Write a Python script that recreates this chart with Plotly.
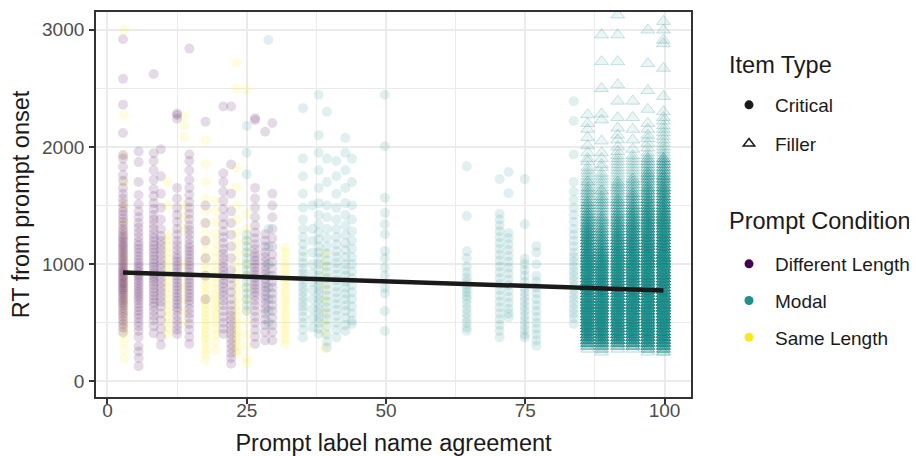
import plotly.graph_objects as go

# ---------------- data (RT in ms) ----------------
# Critical items, Different Length prompts
diff_x = [2.8, 5.6, 8.3, 9.6, 12.5, 14.7, 17.6, 20.8, 22.2, 26.5, 28.3, 29.6]
diff_rt = [
    [2917, 2580, 2359, 2118, 1930, 1900, 1830, 1760, 1710, 1650, 1600, 1560, 1520, 1480, 1450, 1420,
     1390, 1360, 1330, 1300, 1280, 1250, 1230, 1210, 1190, 1170, 1150, 1130, 1110, 1090, 1070, 1050,
     1030, 1010, 990, 970, 950, 935, 920, 900, 885, 870, 850, 835, 820, 800, 785, 770, 750, 730, 710,
     690, 670, 650, 625, 600, 575, 550, 520, 490, 460, 420],
    [1960, 1870, 1700, 1590, 1510, 1450, 1400, 1350, 1310, 1270, 1230, 1190, 1160, 1130, 1100, 1070,
     1040, 1010, 985, 960, 935, 910, 890, 865, 840, 815, 790, 765, 740, 715, 690, 660, 630, 600, 570,
     540, 505, 470, 430, 380, 300, 255, 200, 130],
    [2622, 1945, 1880, 1800, 1720, 1640, 1580, 1520, 1470, 1420, 1380, 1340, 1300, 1260, 1225, 1190,
     1160, 1130, 1100, 1070, 1040, 1010, 980, 950, 925, 900, 875, 850, 820, 790, 760, 730, 700, 670,
     640, 600, 560, 520, 470, 410],
    [1980, 1750, 1600, 1480, 1380, 1300, 1240, 1200, 1160, 1120, 1080, 1040, 1000, 960, 920, 880, 840,
     800, 760, 720, 680, 640, 580, 520, 450, 380, 310],
    [2285, 2271, 2240, 1650, 1560, 1480, 1420, 1360, 1300, 1250, 1200, 1160, 1120, 1080, 1050, 1020,
     990, 960, 930, 900, 870, 840, 810, 780, 750, 720, 690, 660, 630, 600, 560, 520, 480, 440, 405],
    [2838, 1935, 1880, 1800, 1720, 1650, 1590, 1530, 1480, 1430, 1380, 1330, 1290, 1250, 1210, 1170,
     1140, 1110, 1080, 1050, 1020, 990, 960, 930, 900, 870, 840, 810, 780, 750, 720, 690, 660, 620,
     580, 540, 490, 440, 380, 320],
    [2215, 1500, 1350, 1200, 1050, 900, 700],
    [2345, 1775, 1700, 1620, 1540, 1470, 1400, 1340, 1280, 1230, 1180, 1130, 1090, 1050, 1010, 975,
     940, 905, 870, 835, 800, 765, 730, 690, 650, 600, 550, 500, 450, 405],
    [2345, 1850, 1600, 1450, 1350, 1250, 1150, 1050, 950, 880, 820, 760, 700, 650, 600, 560, 520, 480,
     440, 400, 360, 320, 280, 240, 200, 150],
    [2243, 2230, 1650, 1560, 1480, 1400, 1330, 1270, 1220, 1170, 1130, 1090, 1060, 1030, 1000, 970,
     940, 910, 880, 850, 820, 790, 760, 730, 690, 650, 600, 550, 500, 440, 380, 320],
    [2129, 1255, 1200, 1150, 1100, 1060, 1020, 980, 945, 910, 875, 840, 805, 770, 735, 700, 660, 620,
     580, 530, 480, 420, 350],
    [2203, 1600, 1500, 1400, 1300, 1220, 1150, 1080, 1020, 960, 900, 850, 800, 750, 700, 650, 600, 540,
     480, 420, 350],
]

# Critical items, Same Length prompts
same_x = [3.0, 10.8, 13.8, 17.6, 19.4, 23.2, 25.0, 31.9, 39.0]
same_rt = [
    [2996, 2270, 1930, 1700, 1500, 1350, 1250, 1150, 1080, 1020, 960, 900, 850, 800, 750, 700, 650,
     600, 550, 500, 450, 400, 340, 270, 195],
    [1700, 1500, 1250, 1200, 1150, 1100, 1050, 1000, 950, 900, 850, 800, 750, 700, 650, 600, 550, 500,
     450, 400],
    [2260, 2183, 2084, 1500, 1400, 1300, 1000, 900, 800, 700, 600, 500],
    [2056, 1850, 1700, 1560, 1450, 1350, 1260, 1180, 1110, 1050, 1000, 950, 905, 860, 820, 780, 740,
     700, 665, 630, 595, 560, 525, 490, 455, 420, 385, 350, 310, 270, 230, 180],
    [1540, 1450, 1350, 1260, 1180, 1110, 1050, 990, 940, 890, 840, 790, 740, 700, 660, 620, 580, 540,
     500, 450, 400, 340, 265],
    [2719, 2498, 1820, 1650, 1500, 1380, 1270, 1180, 1100, 1020, 950, 880, 820, 760, 700, 650, 600,
     550, 500, 460, 420, 380, 340, 300, 260, 240],
    [2492, 1430, 1300, 1200, 1100, 1000, 900, 800, 700, 600, 500, 400, 300, 200, 150],
    [1140, 1100, 1050, 1000, 960, 920, 880, 840, 800, 760, 720, 680, 640, 600, 560, 520, 480, 440,
     400, 360, 320],
    [1090, 1000, 900, 800, 700, 600, 500, 410, 280],
]

# Critical items, Modal prompts
modal_x = [25.0, 28.9, 35.1, 36.8, 37.9, 39.4, 41.1, 42.7, 43.9, 49.8, 64.5, 70.4, 72.0, 74.9, 77.0, 83.7]
modal_rt = [
    [2180, 1950, 1767, 1250, 1200, 1150, 1100, 1050, 1000, 950, 900, 850, 800, 750, 700, 650, 600],
    [2911, 1300, 1150, 1000, 900, 800, 700, 600, 500],
    [2330, 1900, 1750, 1600, 1480, 1380, 1300, 1230, 1170, 1110, 1060, 1010, 960, 920, 880, 840, 800,
     760, 720, 680, 640, 600, 550, 500, 440, 375],
    [1500, 1300, 1200, 1100, 1000, 920, 850, 780, 700, 620, 540, 460],
    [2445, 2100, 1950, 1800, 1650, 1520, 1420, 1340, 1270, 1210, 1150, 1100, 1050, 1000, 950, 900,
     860, 820, 780, 740, 700, 660, 620, 580, 540, 500, 450, 405],
    [2300, 1900, 1700, 1500, 1400, 1300, 1220, 1150, 1090, 1030, 980, 930, 880, 830, 780, 730, 680,
     630, 580, 530, 470, 400, 340, 290],
    [1880, 1750, 1600, 1480, 1380, 1300, 1230, 1170, 1110, 1060, 1010, 960, 910, 860, 810, 760, 710,
     660, 610, 560, 500, 440, 375],
    [2075, 1950, 1800, 1650, 1520, 1420, 1330, 1250, 1180, 1120, 1060, 1000, 950, 900, 850, 800, 750,
     700, 650, 600, 540, 480, 430],
    [1900, 1700, 1500, 1380, 1280, 1200, 1130, 1060, 1000, 940, 880, 820, 760, 700, 640, 580, 520, 490],
    [2445, 2005, 1565, 1435, 1340, 1255, 1113, 1050, 970, 900, 800, 750, 600, 430],
    [1835, 1410, 1110, 1050, 980, 930, 885, 850, 820, 790, 760, 730, 700, 660, 620, 580, 540, 500,
     460, 430],
    [1725, 1430, 1380, 1330, 1280, 1230, 1180, 1130, 1080, 1030, 980, 930, 880, 830, 780, 730, 680,
     630, 580, 530, 480, 430, 375],
    [1785, 1605, 1265, 1220, 1170, 1120, 1070, 1020, 970, 920, 870, 820, 770, 720, 670, 620, 580, 545],
    [1725, 1340, 1045, 1000, 950, 900, 850, 800, 760, 720, 680, 640, 600, 560, 520, 480, 440, 400, 375],
    [1155, 1100, 1000, 900, 850, 800, 750, 700, 650, 600, 550, 500, 450, 400, 350, 305],
    [2390, 2220, 1935, 1700, 1620, 1550, 1480, 1420, 1360, 1300, 1250, 1200, 1150, 1100, 1060, 1020,
     980, 940, 900, 860, 820, 780, 740, 700, 660, 620, 580, 540, 490],
]

# Filler items (all Modal): number of trials per 25 ms RT bin, per item column
filler_x = [86.2, 88.7, 91.6, 94.3, 97.0, 99.8]
filler_bins = [250, 275, 300, 325, 350, 375, 400, 425, 450, 475, 500, 525, 550, 575, 600, 625, 650,
               675, 700, 725, 750, 775, 800, 825, 850, 875, 900, 925, 950, 975, 1000, 1025, 1050,
               1075, 1100, 1125, 1150, 1175, 1200, 1225, 1250, 1275, 1300, 1325, 1350, 1375, 1400,
               1425, 1450, 1475, 1500, 1525, 1550, 1575, 1600, 1625, 1650, 1675, 1700, 1725, 1750,
               1775, 1800, 1825, 1850, 1875, 1900]
filler_counts = [
    [0, 1, 3, 6, 8, 10, 11, 11, 12, 12, 12, 12, 12, 12, 12, 12, 12, 12, 12, 11, 11, 11, 11, 11,
     11, 10, 10, 10, 10, 10, 10, 9, 9, 9, 9, 8, 8, 8, 7, 7, 7, 6, 6, 5, 5, 4, 4, 4, 3, 3, 3, 3,
     2, 2, 2, 2, 2, 1, 2, 1, 1, 1, 1, 1, 0, 1, 1],
    [1, 2, 4, 7, 9, 10, 11, 11, 12, 12, 12, 12, 12, 12, 12, 12, 12, 12, 11, 11, 11, 11, 11, 10,
     10, 10, 10, 9, 9, 9, 8, 8, 8, 7, 7, 6, 6, 5, 5, 5, 4, 4, 4, 3, 3, 3, 3, 2, 2, 2, 2, 2,
     2, 2, 1, 2, 1, 1, 1, 1, 1, 1, 0, 1, 1, 0, 1],
    [0, 1, 3, 6, 9, 10, 11, 11, 12, 12, 12, 12, 12, 12, 12, 12, 12, 12, 12, 11, 11, 11, 11, 11,
     11, 10, 10, 10, 10, 10, 9, 9, 9, 9, 8, 8, 8, 7, 7, 7, 6, 6, 5, 5, 5, 4, 4, 4, 3, 3, 3, 3,
     3, 2, 2, 2, 2, 2, 2, 1, 1, 1, 1, 1, 1, 1, 1],
    [0, 1, 4, 7, 9, 10, 11, 11, 12, 12, 12, 12, 12, 12, 12, 12, 12, 12, 12, 12, 11, 11, 11, 11,
     11, 11, 11, 10, 10, 10, 10, 10, 10, 9, 9, 9, 9, 8, 8, 8, 7, 7, 7, 6, 6, 5, 5, 5, 4, 4, 4, 3,
     3, 3, 3, 2, 2, 2, 2, 2, 1, 1, 1, 1, 1, 1, 1],
    [1, 3, 6, 9, 10, 11, 12, 12, 13, 13, 13, 13, 13, 13, 13, 13, 13, 13, 13, 13, 12, 12, 12, 12,
     12, 12, 12, 12, 11, 11, 11, 11, 11, 11, 10, 10, 10, 10, 9, 9, 9, 8, 8, 8, 7, 7, 7, 6, 6, 6,
     5, 5, 5, 4, 4, 4, 4, 3, 3, 3, 3, 3, 2, 2, 2, 2, 2],
    [2, 4, 7, 10, 11, 12, 13, 13, 14, 14, 14, 14, 14, 14, 14, 14, 14, 14, 14, 14, 13, 13, 13, 13,
     13, 13, 13, 13, 12, 12, 12, 12, 12, 12, 11, 11, 11, 11, 10, 10, 10, 9, 9, 9, 8, 8, 8, 7, 7, 7,
     6, 6, 6, 5, 5, 5, 5, 4, 4, 4, 4, 3, 3, 3, 3, 3, 3],
]
# Filler trials slower than the binned range
filler_slow_rt = [
    [1950, 2010, 2080, 2150, 2200, 2275],
    [1950, 2050, 2230, 2280, 2498, 2727, 2955],
    [1925, 1960, 2000, 2060, 2100, 2160, 2250, 2390, 2530, 2727, 2955, 3125],
    [1925, 1980, 2060, 2150, 2250, 2390],
    [1925, 1950, 1990, 2030, 2070, 2100, 2150, 2200, 2320, 2480, 2710, 2996],
    [1925, 1950, 1975, 2000, 2030, 2060, 2090, 2120, 2150, 2180, 2220, 2250, 2300, 2430, 2670,
     2880, 2910, 2996, 3070],
]

# Linear fit over all trials (end points)
fit_x = [2.8, 99.8]
fit_rt = [928, 775]

x_ticks = [0, 25, 50, 75, 100]
y_ticks = [0, 1000, 2000, 3000]

# ---------------- styling ----------------
FONT = "Liberation Sans, Arial, Helvetica, sans-serif"
C_DIFF = "#440154"
C_MODAL = "#21908C"
C_SAME = "#FDE725"

# The page body has an 8 px margin, so the figure starts 8 px into the window
BODY = 8
W, H = 917 - BODY, 456 - BODY
# plot panel in window pixels: x 96..691, y 12..397
PL, PR, PT, PB = 96, 691, 12, 397


def px_x(p):
    return (p - PL) / (PR - PL)


def px_y(p):
    return (PB - p) / (PB - PT)


def rgba(hex_color, a):
    h = hex_color.lstrip("#")
    r, g, b = int(h[0:2], 16), int(h[2:4], 16), int(h[4:6], 16)
    return f"rgba({r},{g},{b},{a})"


fig = go.Figure()


def add_critical(xs, rts, color):
    X, Y = [], []
    for x, col in zip(xs, rts):
        X += [x] * len(col)
        Y += col
    fig.add_trace(go.Scatter(
        x=X, y=Y, mode="markers", showlegend=False, hoverinfo="skip",
        marker=dict(symbol="circle", size=10, color=rgba(color, 0.14), line=dict(width=0)),
    ))


add_critical(same_x, same_rt, C_SAME)
add_critical(diff_x, diff_rt, C_DIFF)
add_critical(modal_x, modal_rt, C_MODAL)

FX, FY = [], []
for x, counts, slow in zip(filler_x, filler_counts, filler_slow_rt):
    for b, c in zip(filler_bins, counts):
        FX += [x] * c
        FY += [b] * c
    FX += [x] * len(slow)
    FY += slow
fig.add_trace(go.Scatter(
    x=FX, y=FY, mode="markers", showlegend=False, hoverinfo="skip",
    marker=dict(symbol="triangle-up", size=12, color=rgba(C_MODAL, 0.09),
                line=dict(width=1, color=rgba(C_MODAL, 0.24))),
))

fig.add_trace(go.Scatter(
    x=fit_x, y=fit_rt, mode="lines", showlegend=False, hoverinfo="skip",
    line=dict(color="#1A1A1A", width=4.5),
))

# legend entries
fig.add_trace(go.Scatter(x=[None], y=[None], mode="markers", name="Critical", legend="legend",
                         legendgroup="crit",
                         marker=dict(symbol="circle", size=9, color="#1A1A1A")))
fig.add_trace(go.Scatter(x=[None], y=[None], mode="markers", name="Filler", legend="legend",
                         legendgroup="fill",
                         marker=dict(symbol="triangle-up-open", size=10, color="#1A1A1A",
                                     line=dict(width=1.5))))
for nm, col in [("Different Length", C_DIFF), ("Modal", C_MODAL), ("Same Length", C_SAME)]:
    fig.add_trace(go.Scatter(x=[None], y=[None], mode="markers", name=nm, legend="legend2",
                             legendgroup=nm,
                             marker=dict(symbol="circle", size=9, color=col)))

GRID = "#E9ECEA"
axis_common = dict(
    showline=True, mirror=True, linecolor="#333333", linewidth=1.8,
    ticks="outside", ticklen=5, tickwidth=1.5, tickcolor="#333333",
    tickfont=dict(family=FONT, size=19, color="#4D4D4D"),
    showgrid=True, gridcolor=GRID, gridwidth=2.4, zeroline=False,
    automargin=False,
)

fig.update_layout(
    width=W, height=H,
    margin=dict(l=PL - BODY, r=W - (PR - BODY), t=PT - BODY, b=H - (PB - BODY), autoexpand=False),
    paper_bgcolor="white", plot_bgcolor="white",
    font=dict(family=FONT, color="#1A1A1A"),
    xaxis=dict(
        **axis_common, range=[-2.05, 104.75], tickvals=x_ticks, ticklabelstandoff=-10,
        minor=dict(showgrid=True, dtick=12.5, tick0=0, gridcolor=GRID, gridwidth=1.2, ticks=""),
        title=dict(text="Prompt label name agreement", standoff=16,
                   font=dict(family=FONT, size=23.5, color="#1A1A1A")),
    ),
    yaxis=dict(
        **axis_common, range=[-133, 3150], tickvals=y_ticks, ticklabelstandoff=1,
        minor=dict(showgrid=True, dtick=500, tick0=0, gridcolor=GRID, gridwidth=1.2, ticks=""),
        title=dict(text="RT from prompt onset", standoff=6,
                   font=dict(family=FONT, size=23.5, color="#1A1A1A")),
    ),
    legend=dict(
        x=px_x(723), xanchor="left", y=px_y(86), yanchor="top",
        font=dict(family=FONT, size=19, color="#1A1A1A"),
        tracegroupgap=11, itemwidth=42, bgcolor="rgba(0,0,0,0)",
    ),
    legend2=dict(
        x=px_x(723), xanchor="left", y=px_y(245), yanchor="top",
        font=dict(family=FONT, size=19, color="#1A1A1A"),
        tracegroupgap=9, itemwidth=42, bgcolor="rgba(0,0,0,0)",
    ),
    annotations=[
        dict(text="Item Type", xref="paper", yref="paper", x=px_x(727), y=px_y(65),
             xanchor="left", yanchor="middle", showarrow=False,
             font=dict(family=FONT, size=23.5, color="#1A1A1A")),
        dict(text="Prompt Condition", xref="paper", yref="paper", x=px_x(727), y=px_y(221),
             xanchor="left", yanchor="middle", showarrow=False,
             font=dict(family=FONT, size=23.5, color="#1A1A1A")),
    ],
)

fig.write_html("out.html")
